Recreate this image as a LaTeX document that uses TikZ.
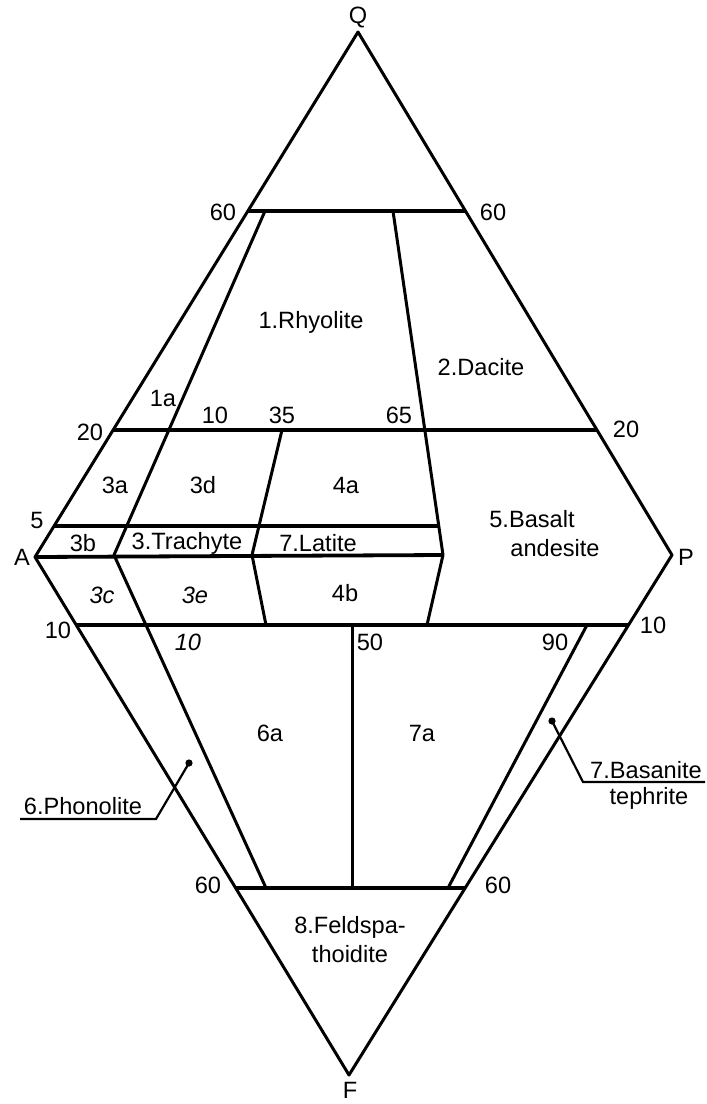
\documentclass[tikz,border=0pt]{standalone}
\usepackage{fontspec}
\setmainfont{Liberation Sans}
\tikzset{
  edge/.style={line width=1.5pt, line join=round},
  bar/.style={line width=1.9pt},
  lead/.style={line width=1.1pt},
  lbl/.style={inner sep=0pt, font=\fontsize{11.8}{13}\selectfont},
  ilbl/.style={inner sep=0pt, font=\fontsize{11.8}{13}\selectfont\itshape}
}
\begin{document}
\begin{tikzpicture}[x=0.5pt, y=-0.5pt]
\useasboundingbox (0,0) rectangle (707,1104);
% corners of the double triangle
\coordinate (Q) at (358,32);
\coordinate (A) at (35,557);
\coordinate (P) at (672,555);
\coordinate (F) at (349,1075);
% ends of the cross bars
\coordinate (q60l) at (248,211); \coordinate (q60r) at (465,211);
\coordinate (q20l) at (113,430); \coordinate (q20r) at (597,430);
\coordinate (q5l)  at (54,526);  \coordinate (q5r)  at (439,526);
\coordinate (ar)   at (443,555);
\coordinate (f10l) at (76,625);  \coordinate (f10r) at (628,625);
\coordinate (f60l) at (236,888); \coordinate (f60r) at (465,888);
% ends of the dividers
\coordinate (t10) at (265,211); \coordinate (a10) at (114,555); \coordinate (b10) at (266,888);
\coordinate (t35) at (282,430); \coordinate (a35) at (252,555); \coordinate (b35) at (266,625);
\coordinate (t65) at (393,211); \coordinate (b65) at (427,625);
\coordinate (t50) at (352,625); \coordinate (b50) at (352,888);
\coordinate (t90) at (587,625); \coordinate (b90) at (448,888);

\draw[edge] (Q) -- (P) -- (F) -- (A) -- cycle;

\draw[bar] (q60l) -- (q60r);
\draw[bar] (q20l) -- (q20r);
\draw[bar] (q5l) -- (q5r);
\draw[bar] (A) -- (ar);
\draw[bar] (f10l) -- (f10r);
\draw[bar] (f60l) -- (f60r);

\draw[edge] (t10) -- (a10) -- (b10);
\draw[edge] (t35) -- (a35) -- (b35);
\draw[edge] (t65) -- (ar) -- (b65);
\draw[edge] (t50) -- (b50);
\draw[edge] (t90) -- (b90);

% corner letters
\node[lbl] (nQ) at (358,17) {Q};
\node[lbl] (nA) at (22,557) {A};
\node[lbl] (nP) at (686,557) {P};
\node[lbl] (nF) at (350,1090) {F};

% scale marks
\node[lbl] (m60l) at (223,212) {60};
\node[lbl] (m60r) at (493,212) {60};
\node[lbl] (m20l) at (90,432) {20};
\node[lbl] (m20r) at (626,429) {20};
\node[lbl] (m10t) at (215,415) {10};
\node[lbl] (m35)  at (282,415) {35};
\node[lbl] (m65)  at (399,415) {65};
\node[lbl] (m5)   at (37,520) {5};
\node[lbl] (m10l) at (58,630) {10};
\node[ilbl] (m10b) at (188,642) {10};
\node[lbl] (m50)  at (370,642) {50};
\node[lbl] (m90)  at (555,642) {90};
\node[lbl] (m10r) at (653,625) {10};
\node[lbl] (m60bl) at (208,885) {60};
\node[lbl] (m60br) at (498,885) {60};

% fields
\node[lbl] (rhy) at (311,322) {1.Rhyolite};
\node[lbl] (dac) at (481,367) {2.Dacite};
\node[lbl] (f1a) at (163,398) {1a};
\node[lbl] (f3a) at (115,485) {3a};
\node[lbl] (f3d) at (203,485) {3d};
\node[lbl] (f4a) at (346,485) {4a};
\node[lbl] (f3b) at (83,543) {3b};
\node[lbl] (tra) at (187,543) {3.Trachyte};
\node[lbl] (lat) at (318,543) {7.Latite};
\node[lbl] (bas1) at (532,519) {5.Basalt};
\node[lbl] (bas2) at (555,548) {andesite};
\node[ilbl] (f3c) at (102,595) {3c};
\node[ilbl] (f3e) at (195,595) {3e};
\node[lbl] (f4b) at (345,593) {4b};
\node[lbl] (f6a) at (270,733) {6a};
\node[lbl] (f7a) at (422,733) {7a};
\node[lbl] (fel1) at (350,927) {8.Feldspa-};
\node[lbl] (fel2) at (350,954) {thoidite};

% leaders
\coordinate (pdot) at (189,763);
\coordinate (pknee) at (156,819);
\coordinate (pend) at (20,819);
\draw[lead] (pdot) -- (pknee) -- (pend);
\fill (pdot) circle[radius=1.8pt];
\node[lbl] (pho) at (83,806) {6.Phonolite};

\coordinate (bdot) at (552,721);
\coordinate (bknee) at (583,782);
\coordinate (bend) at (705,782);
\draw[lead] (bdot) -- (bknee) -- (bend);
\fill (bdot) circle[radius=1.8pt];
\node[lbl] (bsn1) at (646,770) {7.Basanite};
\node[lbl] (bsn2) at (649,798) {tephrite};
\end{tikzpicture}
\end{document}
